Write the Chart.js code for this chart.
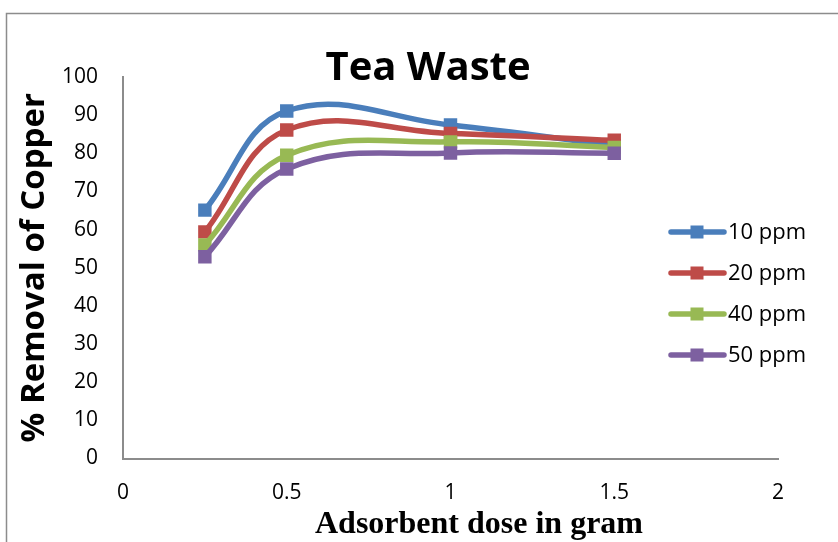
<!DOCTYPE html>
<html>
<head>
<meta charset="utf-8">
<title>Tea Waste</title>
<script src="https://cdn.jsdelivr.net/npm/chart.js@4.4.1/dist/chart.umd.min.js"></script>
<style>
  html, body { margin: 0; padding: 0; background: #ffffff; }
  #wrap { width: 838px; height: 542px; }
</style>
</head>
<body>
<div id="wrap"><canvas id="chart" width="838" height="542"></canvas></div>
<script>
// Adsorbent dose (g) and % copper removal for each initial concentration
const doses = [0.25, 0.5, 1, 1.5];
const seriesNames = ['10 ppm', '20 ppm', '40 ppm', '50 ppm'];
const ppm10 = [65.1, 91.1, 87.4, 82.0];
const ppm20 = [59.4, 86.1, 85.2, 83.4];
const ppm40 = [56.0, 79.5, 83.0, 81.5];
const ppm50 = [52.9, 75.9, 80.1, 80.0];
const xTicks = [0, 0.5, 1, 1.5, 2];
const yTicks = [0, 10, 20, 30, 40, 50, 60, 70, 80, 90, 100];

const chartTitle = 'Tea Waste';
const xTitle = 'Adsorbent dose in gram';
const yTitle = '% Removal of Copper';

const seriesValues = [ppm10, ppm20, ppm40, ppm50];
const seriesColors = ['#4A7EBB', '#BE4B48', '#98B954', '#7D60A0'];

const datasets = seriesValues.map((vals, i) => ({
  label: seriesNames[i],
  data: doses.map((d, k) => ({ x: d, y: vals[k] })),
  borderColor: seriesColors[i],
  backgroundColor: seriesColors[i],
  borderWidth: 5.5,
  tension: 0.4,
  pointStyle: 'rect',
  pointRadius: 9.5,
  pointHoverRadius: 9.5,
  pointBorderWidth: 0,
  pointBackgroundColor: seriesColors[i],
  // later series sit on top of earlier ones
  order: seriesValues.length - 1 - i
}));

// Frame, heading, right-hand key and bottom axis caption
const decor = {
  id: 'decor',
  beforeDraw(chart) {
    const ctx = chart.ctx;
    ctx.save();
    ctx.fillStyle = '#ffffff';
    ctx.fillRect(0, 0, chart.width, chart.height);
    ctx.strokeStyle = '#8c8c8c';
    ctx.lineWidth = 1.5;
    ctx.beginPath();
    ctx.moveTo(chart.width, 13.5);
    ctx.lineTo(6.5, 13.5);
    ctx.lineTo(6.5, chart.height);
    ctx.stroke();
    ctx.restore();
  },
  afterDraw(chart) {
    const ctx = chart.ctx;
    ctx.save();
    // heading
    ctx.fillStyle = '#000000';
    ctx.textAlign = 'center';
    ctx.textBaseline = 'alphabetic';
    ctx.font = 'bold 40px "Open Sans"';
    ctx.fillText(chartTitle, 428, 80);
    // bottom axis caption
    ctx.font = 'bold 32px "Liberation Serif"';
    ctx.fillText(xTitle, 479, 533);
    // key
    ctx.textAlign = 'left';
    ctx.textBaseline = 'middle';
    ctx.font = '22px "Open Sans"';
    chart.data.datasets.forEach((ds, i) => {
      const y = 232 + i * 41;
      ctx.strokeStyle = ds.borderColor;
      ctx.lineWidth = 5.5;
      ctx.lineCap = 'round';
      ctx.beginPath();
      ctx.moveTo(671, y);
      ctx.lineTo(724, y);
      ctx.stroke();
      ctx.fillStyle = ds.borderColor;
      ctx.fillRect(697 - 6.5, y - 6.5, 13, 13);
      ctx.fillStyle = '#000000';
      ctx.fillText(ds.label, 728, y + 1);
    });
    ctx.restore();
  }
};

new Chart(document.getElementById('chart'), {
  type: 'line',
  data: { datasets },
  plugins: [decor],
  options: {
    responsive: false,
    animation: false,
    events: [],
    layout: { padding: { top: 77, right: 60, bottom: 0, left: 0 } },
    plugins: {
      legend: { display: false },
      title: { display: false },
      tooltip: { enabled: false }
    },
    scales: {
      x: {
        type: 'linear',
        min: 0,
        max: 2,
        afterBuildTicks: (s) => { s.ticks = xTicks.map(v => ({ value: v })); },
        afterFit: (s) => { s.height = 83.5; },
        grid: { display: false, drawTicks: false },
        border: { display: true, color: '#8c8c8c', width: 2 },
        ticks: {
          padding: 22,
          color: '#000000',
          font: { family: 'Open Sans', size: 21 },
          maxRotation: 0,
          callback: (v) => String(v)
        },
        title: { display: false }
      },
      y: {
        type: 'linear',
        min: 0,
        max: 100,
        afterBuildTicks: (s) => { s.ticks = yTicks.map(v => ({ value: v })); },
        afterFit: (s) => { s.width = 123; },
        grid: { display: false, drawTicks: false },
        border: { display: true, color: '#8c8c8c', width: 2 },
        ticks: {
          padding: 25,
          color: '#000000',
          font: { family: 'Open Sans', size: 21 },
          callback: (v) => String(v)
        },
        title: {
          display: true,
          text: yTitle,
          color: '#000000',
          font: { family: 'Open Sans', size: 33, weight: 'bold' },
          padding: { top: 15, bottom: 0 }
        }
      }
    }
  }
});
</script>
</body>
</html>
